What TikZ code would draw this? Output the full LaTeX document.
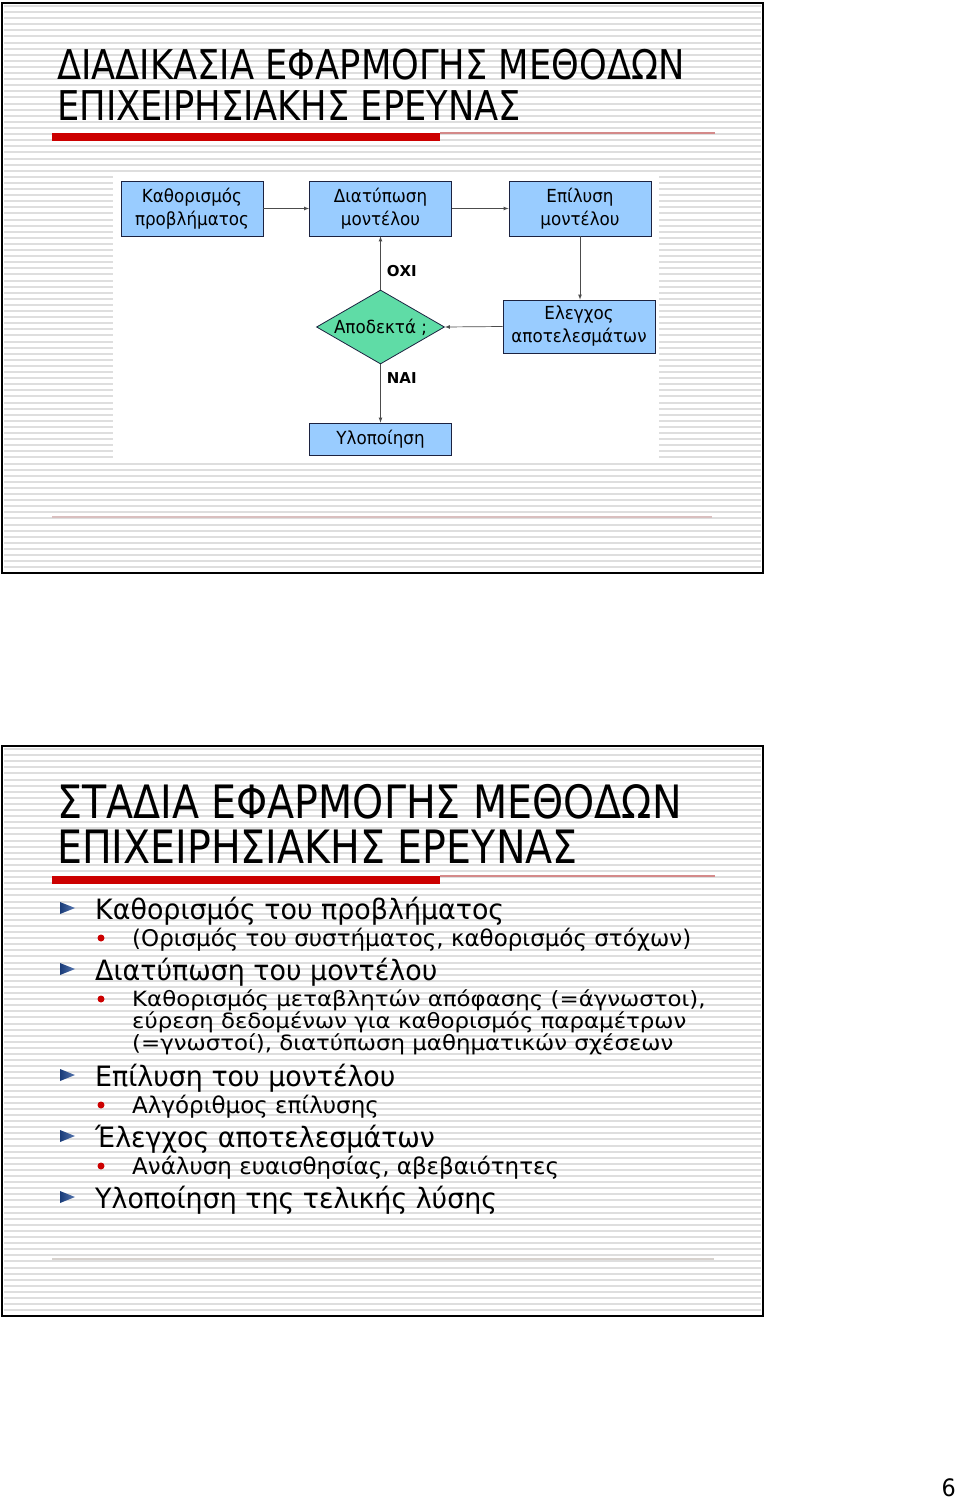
\documentclass[tikz,border=0pt]{standalone}
\usepackage{fontspec}
\setmainfont{DejaVu Sans}
\newfontfamily\narrowfont{DejaVu Sans}[FakeStretch=0.93]
\newfontfamily\itemfont{DejaVu Sans}[FakeStretch=0.96]
\newfontfamily\widefont{DejaVu Sans}[FakeStretch=1.09]
\newfontfamily\titlefont{DejaVu Sans}[FakeStretch=0.86]
\usepackage{tikz}
\usetikzlibrary{shapes,arrows}
\usetikzlibrary{positioning}
\definecolor{boxblue}{HTML}{99CCFF}
\definecolor{boxedge}{HTML}{1C2240}
\definecolor{okgreen}{HTML}{5FDCA6}
\definecolor{barred}{HTML}{CC0000}
\definecolor{barpink}{HTML}{D48A8A}
\definecolor{stripe}{HTML}{DEDEDE}
\definecolor{markblue}{HTML}{1F4A96}
\tikzstyle{block} = [draw=boxedge, fill=boxblue, line width=0.8pt, minimum width=142pt, minimum height=55pt, inner sep=0pt, align=center, font=\narrowfont\fontsize{18}{23}\selectfont]
\tikzstyle{decision} = [diamond, aspect=1.73, draw=boxedge, fill=okgreen, line width=0.8pt, minimum width=128pt, minimum height=74pt, inner sep=0pt, font=\narrowfont\fontsize{18}{23}\selectfont]
\tikzstyle{flow} = [draw=black!70, line width=0.7pt, -latex]
\tikzstyle{answer} = [font=\bfseries\fontsize{15}{17}\selectfont, inner sep=1pt]
\tikzstyle{headline} = [anchor=base west, inner sep=0pt, font=\titlefont\fontsize{41}{41}\selectfont]
\tikzstyle{headlinebig} = [anchor=base west, inner sep=0pt, font=\titlefont\fontsize{46}{46}\selectfont]
\tikzstyle{itemone} = [anchor=base west, inner sep=0pt, font=\itemfont\fontsize{28}{30}\selectfont]
\tikzstyle{itemtwo} = [anchor=base west, inner sep=0pt, font=\fontsize{23}{25}\selectfont]
\tikzstyle{itemwide} = [anchor=base west, inner sep=0pt, font=\widefont\fontsize{21}{22}\selectfont]

\begin{document}
\begin{tikzpicture}[x=1pt, y=-1pt]
    \useasboundingbox (0,0) rectangle (960,1501);
    \fill[white] (0,0) rectangle (960,1501);

    % slides with stripes
    \foreach \top in {3,746} {
        \foreach \k in {0,...,92} {
            \draw[stripe, line width=2pt] (4,\top+3+6.1*\k) -- (761,\top+3+6.1*\k);
        }
        \draw[line width=2.5pt] (2,\top) rectangle (763,\top+570);
        \fill[barred] (52,\top+130) rectangle (440,\top+138);
        \draw[barpink, line width=1.5pt] (440,\top+130) -- (715,\top+130);
    }
    \draw[red!25!gray!40, line width=1.5pt] (52,517) -- (712,517);
    \draw[brown!20!gray!35, line width=1.5pt] (52,1259) -- (714,1259);

    % slide 1
    \node[headline] (titleA) at (57,80) {ΔΙΑΔΙΚΑΣΙΑ ΕΦΑΡΜΟΓΗΣ ΜΕΘΟΔΩΝ};
    \node[headline] (titleB) at (57,121) {ΕΠΙΧΕΙΡΗΣΙΑΚΗΣ ΕΡΕΥΝΑΣ};

    \fill[white] (113,172) rectangle (659,462);
    \node[block] (problem) at (192,208.5) {Καθορισμός\\προβλήματος};
    \node[block] (model) at (380.5,208.5) {Διατύπωση\\μοντέλου};
    \node[block] (solve) at (580,208.5) {Επίλυση\\μοντέλου};
    \node[block, minimum width=152pt, minimum height=53pt] (check) at (579,326.5) {Ελεγχος\\αποτελεσμάτων};
    \node[decision] (accept) at (380.5,327) {Αποδεκτά ;};
    \node[block, minimum height=32pt] (impl) at (380.5,439) {Υλοποίηση};

    \draw[flow] (problem) -- (model);
    \draw[flow] (model) -- (solve);
    \draw[flow] (solve.south) -- (solve.south |- check.north);
    \draw[flow] (check.west) -- (accept.east);
    \draw[flow] (accept) -- node[answer, pos=0.35, anchor=west, xshift=5pt] {ΟΧΙ} (model);
    \draw[flow] (accept) -- node[answer, pos=0.24, anchor=west, xshift=5pt] {ΝΑΙ} (impl);

    % slide 2
    \node[headlinebig] (titleC) at (57,818) {ΣΤΑΔΙΑ ΕΦΑΡΜΟΓΗΣ ΜΕΘΟΔΩΝ};
    \node[headlinebig] (titleD) at (57,863) {ΕΠΙΧΕΙΡΗΣΙΑΚΗΣ ΕΡΕΥΝΑΣ};

    \foreach \y in {908,969,1075,1136,1197} {
        \shade[left color=markblue!80!black, right color=markblue!75] (60,\y-6) -- (75,\y) -- (60,\y+6) -- cycle;
    }
    \foreach \y in {938,999,1105,1166} {
        \fill[barred] (101,\y) circle (3.5);
    }
    \node[itemone] (stepA) at (95,919) {Καθορισμός του προβλήματος};
    \node[itemtwo] (noteA) at (132,946) {(Ορισμός του συστήματος, καθορισμός στόχων)};
    \node[itemone] (stepB) at (95,980) {Διατύπωση του μοντέλου};
    \node[itemwide] (noteB1) at (132,1006) {Καθορισμός μεταβλητών απόφασης (=άγνωστοι),};
    \node[itemwide] (noteB2) at (132,1028) {εύρεση δεδομένων για καθορισμός παραμέτρων};
    \node[itemwide] (noteB3) at (132,1050) {(=γνωστοί), διατύπωση μαθηματικών σχέσεων};
    \node[itemone] (stepC) at (95,1086) {Επίλυση του μοντέλου};
    \node[itemtwo] (noteC) at (132,1113) {Αλγόριθμος επίλυσης};
    \node[itemone] (stepD) at (95,1147) {Έλεγχος αποτελεσμάτων};
    \node[itemtwo] (noteD) at (132,1174) {Ανάλυση ευαισθησίας, αβεβαιότητες};
    \node[itemone] (stepE) at (95,1208) {Υλοποίηση της τελικής λύσης};

    \node[anchor=base east, inner sep=0pt, font=\narrowfont\fontsize{24}{24}\selectfont] (page) at (956,1496) {6};
\end{tikzpicture}
\end{document}
